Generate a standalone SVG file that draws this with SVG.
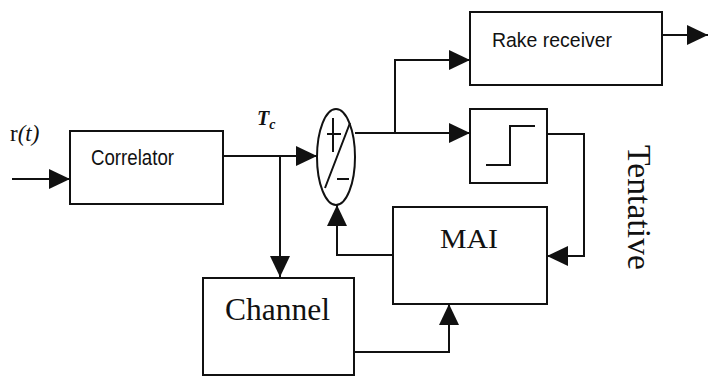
<svg xmlns="http://www.w3.org/2000/svg" width="709" height="376" viewBox="0 0 709 376">
  <style>
    .box { fill: #fff; stroke: #111; stroke-width: 2; }
    .wire { fill: none; stroke: #111; stroke-width: 2; }
    .sans { font-family: "Liberation Sans", Arial, sans-serif; fill: #111; }
    .serif { font-family: "Liberation Serif", "Times New Roman", serif; fill: #111; }
  </style>
  <defs>
    <marker id="arrow" markerUnits="userSpaceOnUse" markerWidth="23" markerHeight="22" refX="21" refY="10" orient="auto">
      <path d="M0,0 L21,10 L0,20 z" fill="#111"/>
    </marker>
  </defs>

  <rect width="709" height="376" fill="#fff"/>

  <!-- connectors -->
  <g id="connectors" class="wire" marker-end="url(#arrow)">
    <path d="M12,179 H70"/>
    <path d="M223,156 H317"/>
    <path d="M280,156 V277"/>
    <path d="M355,133 H470"/>
    <path d="M395,133 V60 H470"/>
    <path d="M662,35 H708"/>
    <path d="M547,134 H584 V256 H547"/>
    <path d="M393,255 H337 V205"/>
    <path d="M354,352 H449 V304"/>
  </g>

  <!-- input label -->
  <g id="input-label">
    <text x="10" y="141" class="serif" font-size="23">r<tspan font-style="italic">(t)</tspan></text>
  </g>

  <!-- chip period label -->
  <g id="tc-label">
    <text x="257" y="125" class="serif" font-size="20" font-weight="bold" font-style="italic">T<tspan font-size="14" dy="4">c</tspan></text>
  </g>

  <g id="correlator">
    <rect class="box" x="70" y="131" width="153" height="73"/>
    <text x="91" y="165" class="sans" font-size="22" textLength="83" lengthAdjust="spacingAndGlyphs">Correlator</text>
  </g>

  <g id="subtractor">
    <ellipse class="box" cx="336" cy="157" rx="19" ry="48"/>
    <path class="wire" d="M333,118 V152 M327,134 H341 M350,123 L325,188 M337,179 H349"/>
  </g>

  <g id="rake-receiver">
    <rect class="box" x="470" y="12" width="192" height="73"/>
    <text x="492" y="47" class="sans" font-size="20.5" textLength="120" lengthAdjust="spacingAndGlyphs">Rake receiver</text>
  </g>

  <g id="decision">
    <rect class="box" x="470" y="109" width="77" height="74"/>
    <polyline class="wire" points="486,165 510,165 510,126 535,126"/>
  </g>

  <g id="mai">
    <rect class="box" x="393" y="207" width="154" height="97"/>
    <text x="440" y="248" class="serif" font-size="27" textLength="58" lengthAdjust="spacingAndGlyphs">MAI</text>
  </g>

  <g id="channel">
    <rect class="box" x="203" y="278" width="151" height="97"/>
    <text x="225" y="320" class="serif" font-size="31" textLength="105" lengthAdjust="spacingAndGlyphs">Channel</text>
  </g>

  <g id="tentative-label">
    <text transform="translate(628,145) rotate(90)" class="serif" font-size="33" textLength="125" lengthAdjust="spacingAndGlyphs">Tentative</text>
  </g>
</svg>
